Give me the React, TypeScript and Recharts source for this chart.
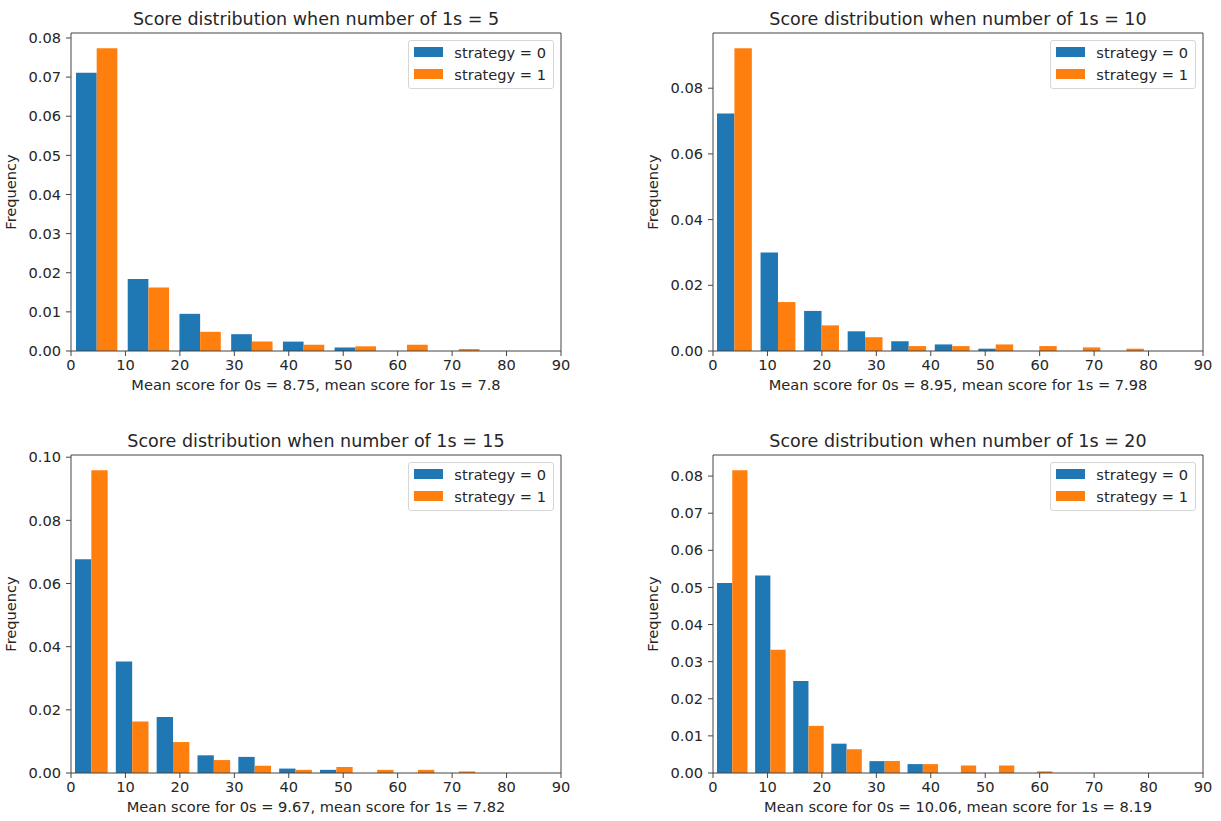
import React from 'react';
import { BarChart, Bar, XAxis, YAxis, Legend, ReferenceLine } from 'recharts';

const BLUE = '#1f77b4';
const ORANGE = '#ff7f0e';
const TEXT = '#262626';
const FRAME = '#444';
const FONT = '"DejaVu Sans", sans-serif';
const FS = 14.6;
const TITLE_FS = 17.5;

const xTicks = [0, 10, 20, 30, 40, 50, 60, 70, 80, 90];

// bin centres of each histogram (10 bins each)
const centers5 = [4.75, 14.25, 23.75, 33.25, 42.75, 52.25, 61.75, 71.25, 80.75, 90.25];
const centers10 = [4, 12, 20, 28, 36, 44, 52, 60, 68, 76];
const centers15 = [3.75, 11.25, 18.75, 26.25, 33.75, 41.25, 48.75, 56.25, 63.75, 71.25];
const centers20 = [3.5, 10.5, 17.5, 24.5, 31.5, 38.5, 45.5, 52.5, 59.5, 66.5];

const strat0_5 = [0.0711, 0.0184, 0.0095, 0.0043, 0.0024, 0.0009, 0, 0, 0, 0];
const strat1_5 = [0.0774, 0.0162, 0.0049, 0.0024, 0.0016, 0.0012, 0.0016, 0.0005, 0, 0];

const strat0_10 = [0.0723, 0.03, 0.0122, 0.006, 0.003, 0.002, 0.0007, 0, 0, 0];
const strat1_10 = [0.0922, 0.0149, 0.0078, 0.0042, 0.0015, 0.0015, 0.002, 0.0015, 0.0011, 0.0007];

const strat0_15 = [0.0677, 0.0353, 0.0177, 0.0056, 0.0051, 0.0014, 0.001, 0, 0, 0];
const strat1_15 = [0.0959, 0.0163, 0.0098, 0.0041, 0.0023, 0.001, 0.0019, 0.001, 0.001, 0.0005];

const strat0_20 = [0.0512, 0.0532, 0.0248, 0.0079, 0.0032, 0.0024, 0, 0, 0, 0];
const strat1_20 = [0.0816, 0.0332, 0.0127, 0.0064, 0.0032, 0.0024, 0.002, 0.002, 0.00045, 0];

const yTicks5 = [0, 0.01, 0.02, 0.03, 0.04, 0.05, 0.06, 0.07, 0.08];
const yTicks10 = [0, 0.02, 0.04, 0.06, 0.08];
const yTicks15 = [0, 0.02, 0.04, 0.06, 0.08, 0.1];
const yTicks20 = [0, 0.01, 0.02, 0.03, 0.04, 0.05, 0.06, 0.07, 0.08];

const PLOT_W = 490;
const PLOT_H = 318;
const Y_AXIS_W = 71;
const X_AXIS_H = 48;
const TOP = 33;
const RIGHT = 10;

interface PanelProps {
  title: string;
  xLabel: string;
  centers: number[];
  s0: number[];
  s1: number[];
  yTicks: number[];
  plotLeft: number;
  plotTop: number;
}

function LegendBox() {
  const rows = [
    { label: 'strategy = 0', color: BLUE },
    { label: 'strategy = 1', color: ORANGE },
  ];
  return (
    <div
      style={{
        border: '1px solid #d6d6d6',
        borderRadius: 3,
        background: 'rgba(255,255,255,0.8)',
        padding: '0px 7px 3px 5px',
        fontFamily: FONT,
        fontSize: FS,
        color: TEXT,
      }}
    >
      {rows.map(r => (
        <div key={r.label} style={{ display: 'flex', alignItems: 'center', height: 22 }}>
          <span style={{ display: 'inline-block', width: 29, height: 10, background: r.color, marginRight: 11 }} />
          <span style={{ whiteSpace: 'nowrap' }}>{r.label}</span>
        </div>
      ))}
    </div>
  );
}

function Panel({ title, xLabel, centers, s0, s1, yTicks, plotLeft, plotTop }: PanelProps) {
  const data = centers.map((c, i) => ({ x: c, s0: s0[i], s1: s1[i] }));
  const yMax = Math.max(...s0, ...s1) * 1.05;
  const binWidth = centers[1] - centers[0];
  const barSize = 0.4 * binWidth * (PLOT_W / 90);
  const tickStyle = { fill: TEXT, fontSize: FS, fontFamily: FONT };

  return (
    <>
      <div
        style={{
          position: 'absolute',
          left: plotLeft - 50,
          top: plotTop - 24,
          width: PLOT_W + 100,
          textAlign: 'center',
          fontFamily: FONT,
          fontSize: TITLE_FS,
          lineHeight: '20px',
          color: TEXT,
          whiteSpace: 'nowrap',
        }}
      >
        {title}
      </div>
      <div style={{ position: 'absolute', left: plotLeft - Y_AXIS_W, top: plotTop - TOP }}>
        <BarChart
          width={Y_AXIS_W + PLOT_W + RIGHT}
          height={TOP + PLOT_H + X_AXIS_H}
          data={data}
          margin={{ top: TOP, right: RIGHT, bottom: 0, left: 0 }}
          barGap={0}
        >
          <XAxis
            dataKey="x"
            type="number"
            domain={[0, 90]}
            ticks={xTicks}
            allowDataOverflow
            height={X_AXIS_H}
            tick={tickStyle}
            tickSize={5}
            tickMargin={4}
            stroke={FRAME}
            label={{ value: xLabel, position: 'insideBottom', offset: 9, fill: TEXT, fontSize: FS, fontFamily: FONT }}
          />
          <YAxis
            type="number"
            domain={[0, yMax]}
            ticks={yTicks}
            allowDataOverflow
            width={Y_AXIS_W}
            tick={tickStyle}
            tickSize={5}
            tickMargin={5}
            tickFormatter={(v: number) => v.toFixed(2)}
            stroke={FRAME}
            label={{
              value: 'Frequency',
              angle: -90,
              position: 'insideLeft',
              offset: 11,
              style: { textAnchor: 'middle' },
              fill: TEXT,
              fontSize: FS,
              fontFamily: FONT,
            }}
          />
          <Legend
            layout="vertical"
            align="center"
            verticalAlign="middle"
            wrapperStyle={{ top: TOP + 7, right: RIGHT + 7, left: 'auto', width: 'auto', height: 'auto' }}
            content={() => <LegendBox />}
          />
          <Bar dataKey="s0" name="strategy = 0" fill={BLUE} barSize={barSize} isAnimationActive={false} />
          <Bar dataKey="s1" name="strategy = 1" fill={ORANGE} barSize={barSize} isAnimationActive={false} />
          <ReferenceLine y={yMax} stroke={FRAME} strokeWidth={1} ifOverflow="extendDomain" />
          <ReferenceLine x={90} stroke={FRAME} strokeWidth={1} ifOverflow="extendDomain" />
        </BarChart>
      </div>
    </>
  );
}

export default function App() {
  return (
    <div style={{ position: 'absolute', left: 0, top: 0, width: 1221, height: 821, background: '#fff', overflow: 'hidden' }}>
      <Panel
        title="Score distribution when number of 1s = 5"
        xLabel="Mean score for 0s = 8.75, mean score for 1s = 7.8"
        centers={centers5}
        s0={strat0_5}
        s1={strat1_5}
        yTicks={yTicks5}
        plotLeft={71}
        plotTop={33}
      />
      <Panel
        title="Score distribution when number of 1s = 10"
        xLabel="Mean score for 0s = 8.95, mean score for 1s = 7.98"
        centers={centers10}
        s0={strat0_10}
        s1={strat1_10}
        yTicks={yTicks10}
        plotLeft={713}
        plotTop={33}
      />
      <Panel
        title="Score distribution when number of 1s = 15"
        xLabel="Mean score for 0s = 9.67, mean score for 1s = 7.82"
        centers={centers15}
        s0={strat0_15}
        s1={strat1_15}
        yTicks={yTicks15}
        plotLeft={71}
        plotTop={455}
      />
      <Panel
        title="Score distribution when number of 1s = 20"
        xLabel="Mean score for 0s = 10.06, mean score for 1s = 8.19"
        centers={centers20}
        s0={strat0_20}
        s1={strat1_20}
        yTicks={yTicks20}
        plotLeft={713}
        plotTop={455}
      />
    </div>
  );
}
